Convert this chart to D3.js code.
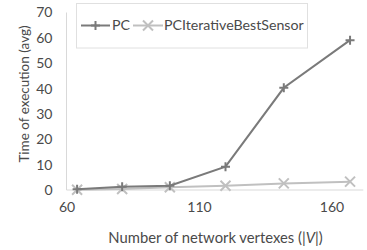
<!DOCTYPE html>
<html><head><meta charset="utf-8">
<script src="https://cdn.jsdelivr.net/npm/d3@7"></script>
<style>body{margin:0;background:#fff}svg{display:block}</style>
</head><body>
<script>
const vertexes = [64, 81, 99, 120, 142, 167];
const pcValues = [0.3, 1.3, 1.7, 9.2, 40.3, 59.1];
const pcibsValues = [0.1, 0.4, 1.1, 1.7, 2.6, 3.3];
const seriesNames = ["PC", "PCIterativeBestSensor"];
const xTicks = [60, 110, 160];
const yTicks = [0, 10, 20, 30, 40, 50, 60, 70];

const W = 367, H = 250;
const font = "Lato, 'Open Sans', sans-serif";
const textColor = "#4a4a4a";
const svg = d3.select("body").append("svg").attr("width", W).attr("height", H);

const x = d3.scaleLinear().domain([60, 172]).range([66.5, 363.3]);
const y = d3.scaleLinear().domain([0, 70]).range([190, 12.5]);

// axes lines
svg.append("line").attr("x1", x(60)).attr("x2", x(60)).attr("y1", y(70)).attr("y2", y(0))
  .attr("stroke", "#d9d9d9").attr("stroke-width", 1);
svg.append("line").attr("x1", x(60)).attr("x2", x(172)).attr("y1", y(0)).attr("y2", y(0))
  .attr("stroke", "#d9d9d9").attr("stroke-width", 1);

// y tick labels
const yAxis = svg.append("g").attr("transform", `translate(${x(60)},0)`)
  .call(d3.axisLeft(y).tickValues(yTicks).tickSize(0).tickPadding(14));
yAxis.select(".domain").remove();
yAxis.selectAll("text").attr("font-family", font).attr("font-size", 14).attr("fill", textColor);

const xAxis = svg.append("g").attr("transform", `translate(0,${y(0)})`)
  .call(d3.axisBottom(x).tickValues(xTicks).tickSize(0).tickPadding(12));
xAxis.select(".domain").remove();
xAxis.selectAll("text").attr("font-family", font).attr("font-size", 14).attr("fill", textColor);

// titles
svg.append("text").attr("transform", `translate(29,94) rotate(-90)`)
  .attr("text-anchor", "middle").attr("font-family", font).attr("font-size", 13.5)
  .attr("fill", textColor).text("Time of execution (avg)");
const xt = svg.append("text").attr("x", 215.5).attr("y", 243)
  .attr("text-anchor", "middle").attr("font-family", font).attr("font-size", 14.8)
  .attr("fill", textColor);
xt.append("tspan").text("Number of network vertexes (|");
xt.append("tspan").attr("font-style", "italic").text("V");
xt.append("tspan").text("|)");

const colors = ["#7a7a7a", "#c0c0c0"];
const line = d3.line().x(d => x(d[0])).y(d => y(d[1]));

function plus(g, cx, cy, c) {
  g.append("path").attr("d", `M${cx-4.5},${cy}H${cx+4.5}M${cx},${cy-4.5}V${cy+4.5}`)
    .attr("stroke", c).attr("stroke-width", 2).attr("fill", "none");
}
function cross(g, cx, cy, c) {
  g.append("path").attr("d", `M${cx-5},${cy-5}L${cx+5},${cy+5}M${cx-5},${cy+5}L${cx+5},${cy-5}`)
    .attr("stroke", c).attr("stroke-width", 2).attr("fill", "none");
}

const data2 = vertexes.map((v, i) => [v, pcibsValues[i]]);
const data1 = vertexes.map((v, i) => [v, pcValues[i]]);

const g2 = svg.append("g");
g2.append("path").attr("d", line(data2)).attr("stroke", colors[1]).attr("stroke-width", 2).attr("fill", "none");
data2.forEach(d => cross(g2, x(d[0]), y(d[1]), colors[1]));

const g1 = svg.append("g");
g1.append("path").attr("d", line(data1)).attr("stroke", colors[0]).attr("stroke-width", 2).attr("fill", "none");
data1.forEach(d => plus(g1, x(d[0]), y(d[1]), colors[0]));

// legend
const lg = svg.append("g");
lg.append("rect").attr("x", 76.5).attr("y", 3.5).attr("width", 231).attr("height", 44.5)
  .attr("fill", "#fff").attr("stroke", "#e0e0e0").attr("stroke-width", 1);
const ly = 25.5;
lg.append("line").attr("x1", 81).attr("x2", 110).attr("y1", ly).attr("y2", ly).attr("stroke", colors[0]).attr("stroke-width", 2);
plus(lg, 95.5, ly, colors[0]);
lg.append("text").attr("x", 112).attr("y", ly).attr("dy", "0.35em").attr("font-family", font).attr("font-size", 14.2)
  .attr("fill", textColor).text(seriesNames[0]);
lg.append("line").attr("x1", 133).attr("x2", 163).attr("y1", ly).attr("y2", ly).attr("stroke", colors[1]).attr("stroke-width", 2);
cross(lg, 148, ly, colors[1]);
lg.append("text").attr("x", 164).attr("y", ly).attr("dy", "0.35em").attr("font-family", font).attr("font-size", 14.2)
  .attr("fill", textColor).text(seriesNames[1]);
</script>
</body></html>
